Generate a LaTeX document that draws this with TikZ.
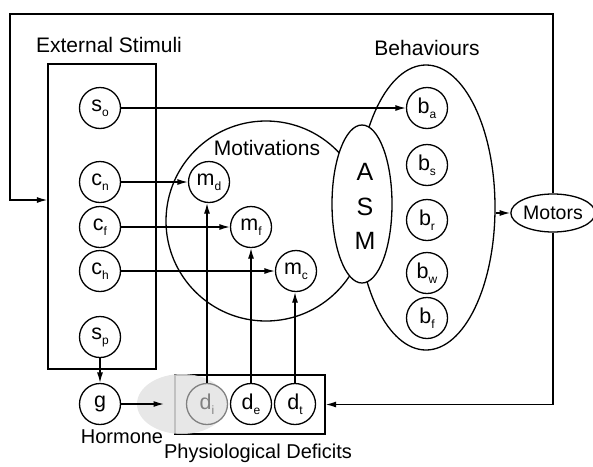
\documentclass[tikz,border=0pt]{standalone}
\usepackage{fontspec}
\setmainfont{Liberation Sans}
\usetikzlibrary{arrows.meta,shapes.geometric}
% label with a lowered small index
\newcommand\lbl[2]{#1\raisebox{-5pt}{\fontsize{12}{12}\selectfont #2}}
\begin{document}
\begin{tikzpicture}[x=1pt,y=-1pt,
  line width=1.3pt,
  every node/.style={inner sep=0pt},
  unit/.style={circle,draw,fill=white,minimum size=41pt,font=\fontsize{21.5}{22}\selectfont},
  caption/.style={font=\fontsize{21}{24}\selectfont},
  arr/.style={-{Latex[length=10.5pt,width=6pt]}}]
\useasboundingbox (0,0) rectangle (593,466);

% group outlines
\node[draw,minimum width=108pt,minimum height=305pt] (ext) at (102,216.5) {};
\node[draw,circle,minimum size=200pt] (mot) at (266,221) {};
\node[draw,ellipse,minimum width=138pt,minimum height=285pt] (beh) at (426,207.5) {};
\node[draw,fill=white,ellipse,minimum width=60pt,minimum height=158pt] (asm) at (362,204) {};
\node[draw,minimum width=150pt,minimum height=59pt] (def) at (250,404.5) {};
\fill[gray!22,fill opacity=0.85] (182,404) ellipse [x radius=45, y radius=30];

% group captions
\node[caption] (extlbl) at (109,45) {External Stimuli};
\node[caption] (behlbl) at (427,48) {Behaviours};
\node[caption,fill=white,inner sep=1pt] (motlbl) at (267,148) {Motivations};
\node[font=\fontsize{20}{22}\selectfont] (hormlbl) at (122,437) {Hormone};
\node[font=\fontsize{20}{22}\selectfont] (deflbl) at (258,453) {Physiological Deficits};

% action selection mechanism
\node[font=\fontsize{25}{26}\selectfont] (asmA) at (365,172) {A};
\node[font=\fontsize{25}{26}\selectfont] (asmS) at (365,207) {S};
\node[font=\fontsize{25}{26}\selectfont] (asmM) at (365,241) {M};

% stimuli
\node[unit] (so) at (100,108) {\lbl{s}{o}};
\node[unit] (cn) at (100,182) {\lbl{c}{n}};
\node[unit] (cf) at (100,227) {\lbl{c}{f}};
\node[unit] (ch) at (100,271) {\lbl{c}{h}};
\node[unit] (sp) at (100,337) {\lbl{s}{p}};
\node[unit] (g)  at (100,404) {g};

% motivations
\node[unit] (md) at (209,182) {\lbl{m}{d}};
\node[unit] (mf) at (251,227) {\lbl{m}{f}};
\node[unit] (mc) at (296,271) {\lbl{m}{c}};

% deficits
\node[unit,draw=gray,fill=none,text=gray] (di) at (207,404) {\lbl{d}{i}};
\node[unit] (de) at (251,404) {\lbl{d}{e}};
\node[unit] (dt) at (295,404) {\lbl{d}{t}};

% behaviours
\node[unit] (ba) at (427,108) {\lbl{b}{a}};
\node[unit] (bs) at (427,165) {\lbl{b}{s}};
\node[unit] (br) at (427,220) {\lbl{b}{r}};
\node[unit] (bw) at (427,273) {\lbl{b}{w}};
\node[unit] (bf) at (427,318) {\lbl{b}{f}};

% motors
\node[draw,ellipse,fill=white,minimum width=76pt,minimum height=38pt,font=\fontsize{19.5}{20}\selectfont] (motors) at (553,213) {Motors};

% connectors
\draw[arr] (so) -- (ba);
\draw[arr] (cn) -- (md);
\draw[arr] (cf) -- (mf);
\draw[arr] (ch) -- (mc);
\draw[arr] (di.north) -- (di.north |- md.south);
\draw[arr] (de) -- (mf);
\draw[arr] (dt.north) -- (dt.north |- mc.south);
\draw[arr] (sp) -- (g);
\coordinate (gend) at (164,404);
\draw[arr] (g) -- (gend);
\draw[arr] (beh.east |- motors.west) -- (motors.west);
\coordinate (tl) at (10,14);
\coordinate (bl) at (10,200);
\draw[arr] (motors.north) |- (tl) -- (bl) -- (bl -| ext.west);
\draw[arr] (motors.south) |- (def.east);
\end{tikzpicture}
\end{document}
